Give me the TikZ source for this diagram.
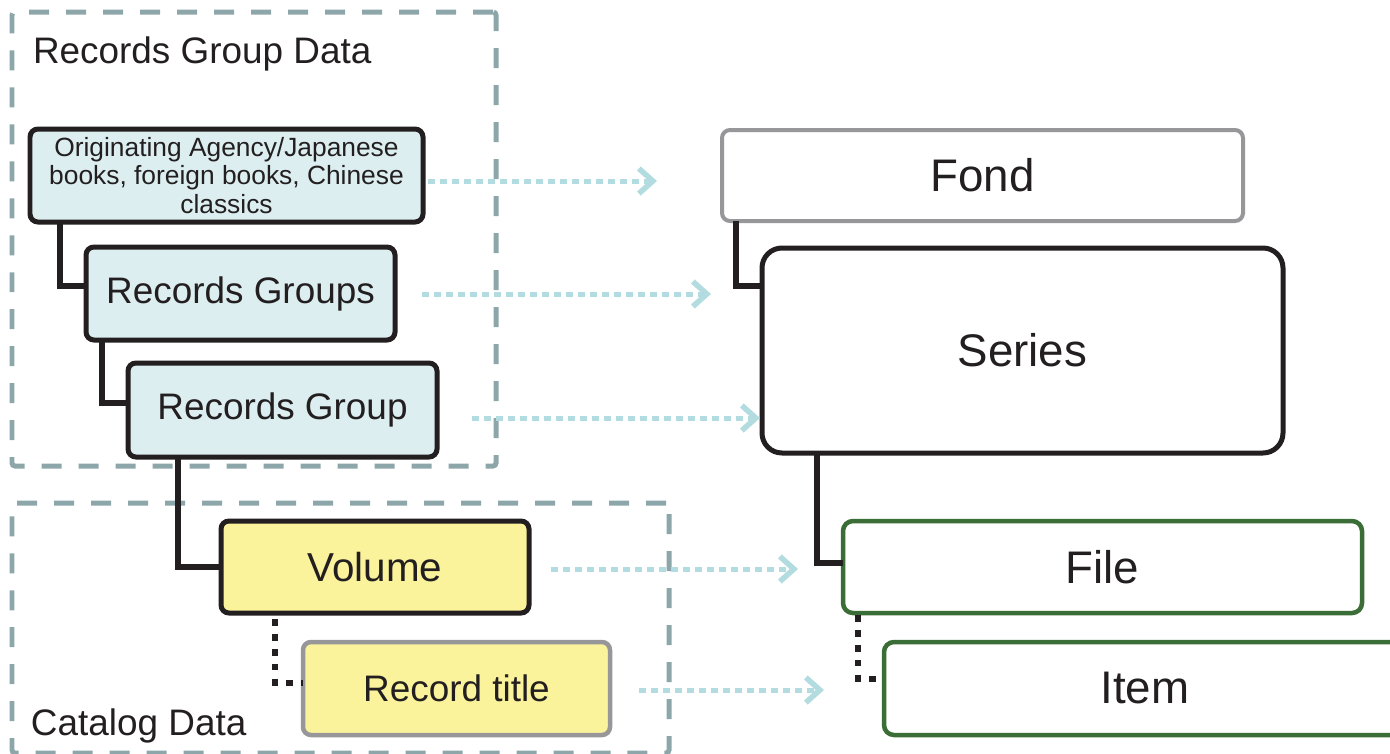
\documentclass[tikz,border=0pt]{standalone}
\usepackage{fontspec}
\setmainfont{Liberation Sans}
\usetikzlibrary{arrows.meta,calc}
\definecolor{grpc}{HTML}{8DA6AA}
\definecolor{flowc}{HTML}{B2DCDF}
\definecolor{bluef}{HTML}{DCEEF0}
\definecolor{yelf}{HTML}{FAF39B}
\definecolor{grayb}{HTML}{97979A}
\definecolor{greenb}{HTML}{3B6E36}
\definecolor{ink}{HTML}{231F20}
\newcommand\boxnode[7]{%
  \node[#1, minimum width={(#5-#3)*0.02cm}, minimum height={(#6-#4)*0.02cm}]
    (#2) at ({(#3+#5)/2},{(#4+#6)/2}) {#7};}
\tikzset{
  base/.style={inner sep=0pt, outer sep=0pt, text=ink, rectangle, align=center},
  grp/.style={base, draw=grpc, line width=0.1cm, dash pattern=on 0.4cm off 0.34cm, rounded corners=0.06cm},
  grplabel/.style={base, anchor=base west, font=\fontsize{21}{24}\selectfont},
  bluebox/.style={base, draw=ink, fill=bluef, line width=0.1cm, rounded corners=0.16cm},
  yelbox/.style={base, draw=ink, fill=yelf, line width=0.1cm, rounded corners=0.16cm, font=\fontsize{23}{26}\selectfont},
  yelgray/.style={base, draw=grayb, fill=yelf, line width=0.09cm, rounded corners=0.16cm, font=\fontsize{21}{24}\selectfont},
  midfont/.style={font=\fontsize{21}{24}\selectfont},
  bigfont/.style={font=\fontsize{26}{30}\selectfont},
  fondbox/.style={base, draw=grayb, fill=white, line width=0.08cm, rounded corners=0.16cm, bigfont},
  serbox/.style={base, draw=ink, fill=white, line width=0.1cm, rounded corners=0.4cm, bigfont},
  greenbox/.style={base, draw=greenb, fill=white, line width=0.09cm, rounded corners=0.2cm, bigfont},
  tree/.style={draw=ink, line width=0.12cm},
  treedot/.style={draw=ink, line width=0.12cm, dash pattern=on 0.13cm off 0.17cm},
  flow/.style={draw=flowc, line width=0.1cm, dash pattern=on 0.14cm off 0.1cm,
    -{Straight Barb[length=0.28cm, width=0.5cm, line width=0.11cm]}},
}
\begin{document}
\begin{tikzpicture}[x=0.02cm, y=-0.02cm]
\useasboundingbox (0,0) rectangle (1390,754);

% group boxes
\boxnode{grp}{rgd}{12}{12}{496}{466}{}
\boxnode{grp}{cat}{12}{503}{669}{753}{}
\node[grplabel] (rgdlabel) at (33,63) {Records Group Data};
\node[grplabel] (catlabel) at (31,735) {Catalog Data};

% left nodes
\boxnode{bluebox, font=\fontsize{15}{16}\selectfont}{orig}{30}{129}{423}{222}{Originating Agency/Japanese\\books, foreign books, Chinese\\classics}
\boxnode{bluebox, midfont}{rgs}{86}{247}{395}{340}{Records Groups}
\boxnode{bluebox, midfont}{rg}{128}{363}{437}{457}{Records Group}
\boxnode{yelbox}{vol}{221}{521}{529}{613}{Volume}
\boxnode{yelgray}{rt}{303}{642}{610}{735}{Record title}

% right nodes
\boxnode{fondbox}{fond}{722}{130}{1243}{221}{Fond}
\boxnode{serbox}{ser}{762}{248}{1283}{453}{Series}
\boxnode{greenbox}{file}{843}{521}{1362}{613}{File}
\boxnode{greenbox}{item}{884}{642}{1406}{735}{Item}

% tree connectors
\draw[tree] ($(orig.south west)+(30,0)$) |- ($(rgs.west)+(0,-8)$);
\draw[tree] ($(rgs.south west)+(16,0)$) |- ($(rg.west)+(0,-7)$);
\draw[tree] ($(rg.south west)+(50,0)$) |- ($(vol.west)+(0,0)$);
\draw[treedot] ($(vol.south west)+(54,6)$) |- ($(rt.west)+(0,-6)$);
\draw[tree] ($(fond.south west)+(14,0)$) |- ($(ser.west)+(0,-65)$);
\draw[tree] ($(ser.south west)+(55,0)$) |- ($(file.west)+(0,-4)$);
\draw[treedot] ($(file.south west)+(15,2)$) |- ($(item.west)+(0,-10)$);

% flow arrows
\coordinate (a1s) at (428,181); \coordinate (a1e) at (657,181);
\coordinate (a2s) at (422,294); \coordinate (a2e) at (711,294);
\coordinate (a3s) at (472,418); \coordinate (a3e) at (760,418);
\coordinate (a4s) at (551,569); \coordinate (a4e) at (798,569);
\coordinate (a5s) at (639,690); \coordinate (a5e) at (824,690);
\draw[flow] (a1s) -- (a1e);
\draw[flow] (a2s) -- (a2e);
\draw[flow] (a3s) -- (a3e);
\draw[flow] (a4s) -- (a4e);
\draw[flow] (a5s) -- (a5e);
\end{tikzpicture}
\end{document}
